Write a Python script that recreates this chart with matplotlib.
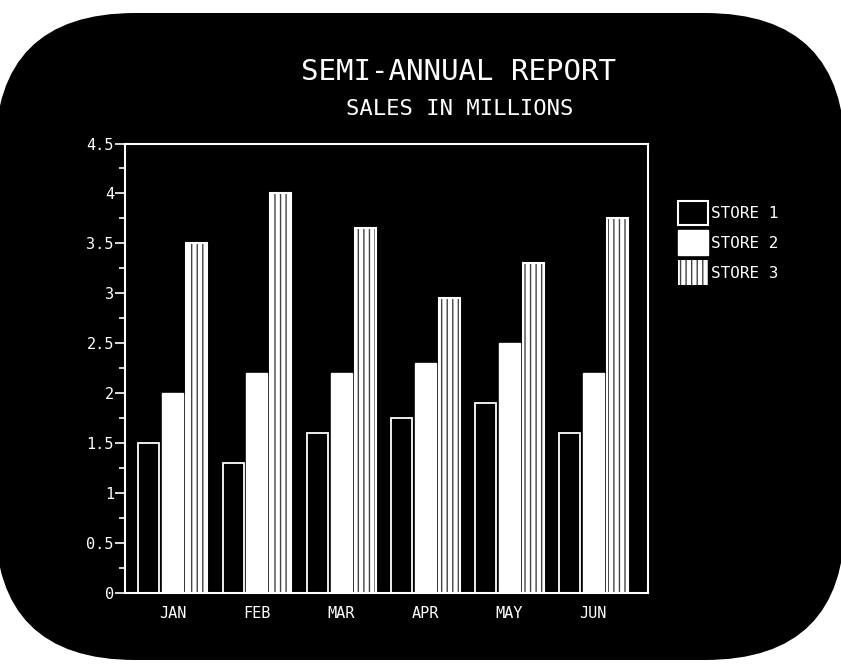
import numpy as np
import matplotlib.pyplot as plt
from matplotlib.patches import FancyBboxPatch, Patch

months = ["JAN", "FEB", "MAR", "APR", "MAY", "JUN"]
store1 = [1.5, 1.3, 1.6, 1.75, 1.9, 1.6]
store2 = [2.0, 2.2, 2.2, 2.3, 2.5, 2.2]
store3 = [3.5, 4.0, 3.65, 2.95, 3.3, 3.75]
yticks = [0, 0.5, 1, 1.5, 2, 2.5, 3, 3.5, 4, 4.5]
ytick_labels = ["0", "0.5", "1", "1.5", "2", "2.5", "3", "3.5", "4", "4.5"]

plt.rcParams['font.family'] = ['DejaVu Sans Mono']
plt.rcParams['hatch.linewidth'] = 1.0

fig = plt.figure(figsize=(8.41, 6.69), dpi=100, facecolor='white')

# rounded CRT screen
screen = FancyBboxPatch((-0.05, 0.09), 8.5, 6.47,
                        boxstyle="round,pad=0,rounding_size=1.4",
                        transform=fig.dpi_scale_trans,
                        facecolor='black', edgecolor='none', zorder=-10)
fig.add_artist(screen)

ax = fig.add_axes([0.1486, 0.1136, 0.6219, 0.6719])
ax.set_facecolor('black')

x = np.arange(len(months))
w = 0.25
off = 0.285

ax.bar(x - off, store1, w, facecolor='black', edgecolor='white', linewidth=1.3)
ax.bar(x, store2, w, facecolor='white', edgecolor='white', linewidth=1.0)
ax.bar(x + off, store3, w, facecolor='white', edgecolor='#444444', hatch='|||', linewidth=0)
ax.bar(x + off, store3, w, fill=False, edgecolor='white', linewidth=1.5)

ax.set_xlim(-0.57, 5.65)
ax.set_ylim(0, 4.5)
ax.set_xticks(x)
ax.set_xticklabels(months)
ax.set_yticks(yticks)
ax.set_yticklabels(ytick_labels)
ax.set_yticks(np.arange(0.25, 4.5, 0.5), minor=True)

for s in ax.spines.values():
    s.set_color('white')
    s.set_linewidth(1.5)
ax.tick_params(axis='y', colors='white', direction='out', length=7, width=1.2,
               pad=1, labelsize=11)
ax.tick_params(axis='y', which='minor', colors='white', length=4, width=1.2)
ax.tick_params(axis='x', colors='white', length=0, pad=9, labelsize=11)

fig.text(0.545, 0.892, "SEMI-ANNUAL REPORT", color='white', fontsize=21,
         ha='center', va='center', fontweight='light')
fig.text(0.547, 0.837, "SALES IN MILLIONS", color='white', fontsize=16,
         ha='center', va='center')

handles = [Patch(facecolor='black', edgecolor='white', linewidth=1.5),
           Patch(facecolor='white', edgecolor='white'),
           Patch(facecolor='white', edgecolor='#444444', hatch='|||', linewidth=0)]
leg = fig.legend(handles, ["STORE 1", "STORE 2", "STORE 3"],
                 loc='upper left', bbox_to_anchor=(0.806, 0.700),
                 frameon=False, fontsize=11.5, labelcolor='white',
                 handlelength=1.9, handleheight=2.0, labelspacing=0.32,
                 handletextpad=0.15, borderaxespad=0, borderpad=0)

fig.savefig("out.png", dpi=100, facecolor='white')
